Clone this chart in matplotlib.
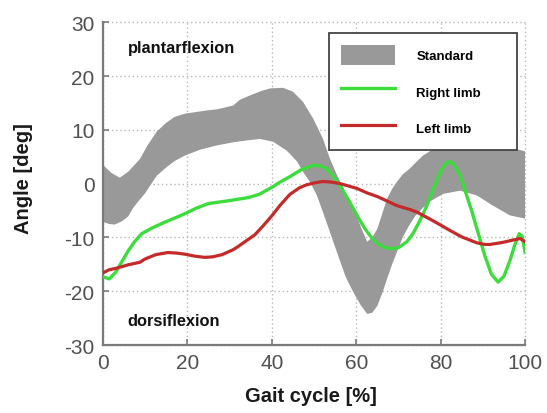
import matplotlib
matplotlib.use("Agg")
import matplotlib.pyplot as plt
from matplotlib.patches import Patch
from matplotlib.lines import Line2D

plt.rcParams['font.family'] = ['Liberation Sans', 'DejaVu Sans']
plt.rcParams['axes.unicode_minus'] = False

# Normal range (standard band): upper and lower boundaries
band_upper_x = [0, 2, 4, 6, 8.8, 10.5, 12.8, 15, 17, 19.4, 22, 24.6, 27, 30.8, 32.5, 35.5,
                37.5, 39.6, 42.7, 45, 47.4, 49.8, 52.1, 53.8, 55.5, 57, 58.5, 60, 61.5,
                62.6, 63.8, 65, 66.2, 67.3, 68.5, 69.7, 71, 72.7, 74.2, 75.8, 78, 80, 84,
                90, 95, 100]
band_upper_y = [3.5, 2.0, 1.1, 2.2, 4.6, 7.0, 9.7, 11.3, 12.4, 13.0, 13.3, 13.6, 13.8, 14.5,
                15.6, 16.6, 17.2, 17.7, 17.8, 17.1, 15.2, 12.1, 8.4, 4.6, 1.5, -0.9, -3.3,
                -5.9, -8.8, -10.8, -10.0, -8.4, -5.5, -2.8, -1.0, 0.4, 1.7, 2.8, 4.0, 5.2,
                6.3, 7.0, 7.5, 7.5, 7.0, 6.0]

band_lower_x = [0, 1.5, 2.8, 4.5, 6, 7.1, 8.5, 10, 11.5, 12.8, 15, 17, 19.4, 23, 27, 31,
                34.8, 37.2, 40.3, 43.6, 46, 47.4, 49, 50.7, 52, 54, 56, 57.5, 59.2, 61,
                62.6, 63.8, 65, 66.2, 67.3, 68.5, 69.7, 71, 72.5, 74, 75.8, 77.5, 80.6,
                84.6, 88.6, 92.4, 96.4, 100]
band_lower_y = [-7.1, -7.5, -7.6, -7.0, -6.1, -4.6, -3.2, -1.8, 0.0, 1.5, 3.0, 4.2, 5.2,
                6.3, 7.1, 7.7, 8.1, 8.3, 7.8, 6.1, 4.1, 2.2, 0.4, -2.2, -5.0, -9.5, -14.0,
                -17.3, -20.0, -22.5, -24.2, -24.0, -22.7, -20.3, -17.7, -15.0, -12.6,
                -10.0, -7.8, -6.0, -4.5, -3.3, -1.9, -1.3, -2.2, -4.1, -5.9, -6.5]

# Right limb ankle angle
right_x = [0, 1.5, 3, 4.5, 6, 7.5, 9.2, 11.5, 14, 17, 19.4, 22, 25, 29.6, 34.4, 37, 40,
           42, 44.3, 47, 49.8, 51.5, 53, 55, 56.5, 58.5, 60.2, 62, 63.5, 65, 66.5, 68.5,
           70, 72, 73.5, 75, 76.5, 78, 79.5, 81, 82, 83, 84.6, 86, 87.4, 89, 90.5, 92,
           93.6, 95, 96.4, 97.5, 98.6, 99.3, 100]
right_y = [-17.3, -17.7, -16.5, -14.5, -12.5, -10.8, -9.3, -8.3, -7.4, -6.4, -5.6, -4.6,
           -3.7, -3.2, -2.6, -2.0, -0.7, 0.3, 1.3, 2.6, 3.4, 3.3, 2.8, 1.0, -0.8, -3.5,
           -5.9, -8.3, -9.9, -11.1, -11.8, -12.1, -11.9, -10.8, -9.2, -7.0, -4.5, -1.5,
           1.5, 3.6, 4.1, 3.7, 1.5, -1.8, -5.2, -9.5, -13.5, -16.8, -18.3, -17.2, -14.3,
           -11.5, -9.3, -9.8, -12.8]

# Left limb ankle angle
left_x = [0, 1.5, 3.3, 5.9, 8.8, 10, 12.5, 15.4, 17.5, 19.4, 22, 24.2, 26, 28.2, 30.8, 32,
          34, 36, 38, 40, 42, 44.3, 46.5, 48.3, 50.5, 52.1, 54, 56.2, 58, 60.2, 62.5, 65,
          67.5, 69.7, 72.7, 74.4, 77.5, 80, 82.2, 85, 88.6, 90.5, 91.7, 94.8, 97, 98.8, 100]
left_y = [-16.6, -16.0, -15.7, -15.1, -14.6, -14.0, -13.2, -12.8, -12.9, -13.1, -13.5,
          -13.7, -13.6, -13.2, -12.3, -11.7, -10.6, -9.5, -7.8, -6.0, -4.0, -2.0, -0.8,
          -0.2, 0.2, 0.4, 0.3, 0.0, -0.4, -0.9, -1.7, -2.4, -3.3, -4.1, -4.8, -5.3, -6.6,
          -7.7, -8.7, -9.9, -11.0, -11.3, -11.3, -10.9, -10.5, -10.2, -10.8]

x_ticks = [0, 20, 40, 60, 80, 100]
y_ticks = [-30, -20, -10, 0, 10, 20, 30]

band_color = '#999999'
right_color = '#3ddc3d'
left_color = '#c42a2a'

fig = plt.figure(figsize=(5.47, 4.14), dpi=100)
ax = fig.add_axes([0.188, 0.164, 0.772, 0.780])

# Standard band as a closed polygon: upper edge forward, lower edge backward
poly_x = band_upper_x + band_lower_x[::-1]
poly_y = band_upper_y + band_lower_y[::-1]
ax.fill(poly_x, poly_y, color=band_color, lw=0, zorder=2)

ax.plot(right_x, right_y, color=right_color, lw=2.4, solid_joinstyle='round', zorder=3)
ax.plot(left_x, left_y, color=left_color, lw=2.3, solid_joinstyle='round', zorder=4)

ax.set_xlim(0, 100)
ax.set_ylim(-30, 30)
ax.set_xticks(x_ticks)
ax.set_yticks(y_ticks)
ax.grid(True, color='#b8b8b8', linestyle=(0, (1, 2)), linewidth=1.0, zorder=0)
for gl in ax.get_xgridlines() + ax.get_ygridlines():
    gl.set_clip_on(False)
ax.set_axisbelow(True)

for side in ('top', 'right'):
    ax.spines[side].set_visible(False)
for side in ('left', 'bottom'):
    ax.spines[side].set_color('#7a7a7a')
    ax.spines[side].set_linewidth(1.6)

ax.tick_params(direction='in', length=4, width=1.2, color='#7a7a7a',
               labelsize=15, labelcolor='#505050', pad=6)

ax.set_xlabel('Gait cycle [%]', fontsize=14.5, fontweight='bold', color='#1a1a1a')
ax.set_ylabel('Angle [deg]', fontsize=14.5, fontweight='bold', color='#1a1a1a')
ax.xaxis.set_label_coords(0.493, -0.128)
ax.yaxis.set_label_coords(-0.166, 0.52)

ax.text(5.9, 25.3, 'plantarflexion', fontsize=11.8, fontweight='bold', color='#111111',
        va='center', ha='left', zorder=5)
ax.text(5.9, -25.5, 'dorsiflexion', fontsize=11.8, fontweight='bold', color='#111111',
        va='center', ha='left', zorder=5)

handles = [Patch(facecolor=band_color, edgecolor='none'),
           Line2D([0], [0], color=right_color, lw=2.4),
           Line2D([0], [0], color=left_color, lw=2.3)]
labels = ['Standard', 'Right limb', 'Left limb']
leg = ax.legend(handles, labels, loc='upper left', bbox_to_anchor=(0.536, 0.61, 0.445, 0.356),
                mode='expand', fancybox=False, framealpha=1, edgecolor='#444444',
                prop={'weight': 'bold', 'size': 9.5}, handlelength=4.1, handleheight=2.0,
                handletextpad=1.6, labelspacing=1.2, borderpad=0.9, borderaxespad=0)
leg.get_frame().set_linewidth(1.3)
leg.set_zorder(6)

fig.savefig('out.png', dpi=100)
